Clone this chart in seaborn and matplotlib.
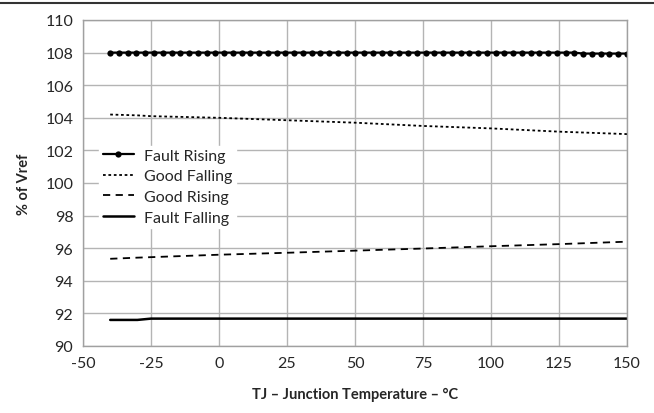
import numpy as np
import pandas as pd
import matplotlib
matplotlib.use('Agg')
import matplotlib.pyplot as plt
from matplotlib.lines import Line2D
import seaborn as sns

# Data
temps = np.linspace(-40, 150, 60)
fault_rising = [108.0] * 54 + [107.94] * 6

curve_temps = [-40, -30, -25, 0, 25, 50, 75, 100, 125, 150]
good_falling = [104.2, 104.15, 104.1, 104.0, 103.85, 103.7, 103.5, 103.35, 103.15, 103.0]
good_rising = [95.35, 95.42, 95.45, 95.6, 95.72, 95.85, 95.98, 96.12, 96.25, 96.4]
fault_falling = [91.6, 91.6, 91.68, 91.68, 91.68, 91.68, 91.68, 91.68, 91.68, 91.68]

sns.set_style('white')
plt.rcParams['font.family'] = ['Lato', 'DejaVu Sans']
plt.rcParams['axes.unicode_minus'] = False

fig = plt.figure(figsize=(6.54, 4.14), dpi=100)
ax = fig.add_axes([83 / 654, 1 - 347 / 414, 544 / 654, 326 / 414])

df_fr = pd.DataFrame({'t': temps, 'v': fault_rising})
df_c = pd.DataFrame({'t': curve_temps, 'gf': good_falling, 'gr': good_rising, 'ff': fault_falling})

sns.lineplot(data=df_fr, x='t', y='v', ax=ax, color='black', lw=1.6, marker='o',
             markersize=4.5, markeredgewidth=0, label='Fault Rising')
sns.lineplot(data=df_c, x='t', y='gf', ax=ax, color='black', lw=1.3, linestyle=(0, (1.5, 1.5)),
             label='Good Falling')
sns.lineplot(data=df_c, x='t', y='gr', ax=ax, color='black', lw=1.3, linestyle=(0, (4, 3)),
             label='Good Rising')
sns.lineplot(data=df_c, x='t', y='ff', ax=ax, color='black', lw=1.8, label='Fault Falling')

ax.set_xlim(-50, 150)
ax.set_ylim(90, 110)
ax.set_xticks(range(-50, 151, 25))
ax.set_yticks(range(90, 111, 2))
ax.grid(True, color='#b4b4b4', lw=1)
for s in ax.spines.values():
    s.set_color('#a0a0a0')
    s.set_linewidth(1)
ax.tick_params(axis='both', length=0, labelsize=11.5, pad=7)
ax.set_xlabel('TJ – Junction Temperature – °C', fontsize=10.5, fontweight='bold', labelpad=12)
ax.set_ylabel('% of Vref', fontsize=10.5, fontweight='bold', labelpad=10)

leg = ax.legend(loc='upper left', bbox_to_anchor=(0.03, 0.615), frameon=True, fontsize=11.5,
                handlelength=2.0, handletextpad=0.6, labelspacing=0.4, borderpad=0.2,
                borderaxespad=0)
leg.get_frame().set_facecolor('white')
leg.get_frame().set_edgecolor('white')
leg.get_frame().set_alpha(1)

fig.add_artist(Line2D([0, 1], [1 - 4 / 414, 1 - 4 / 414], color='#333333', lw=1.5,
                      transform=fig.transFigure))

fig.savefig('out.png', dpi=100)
